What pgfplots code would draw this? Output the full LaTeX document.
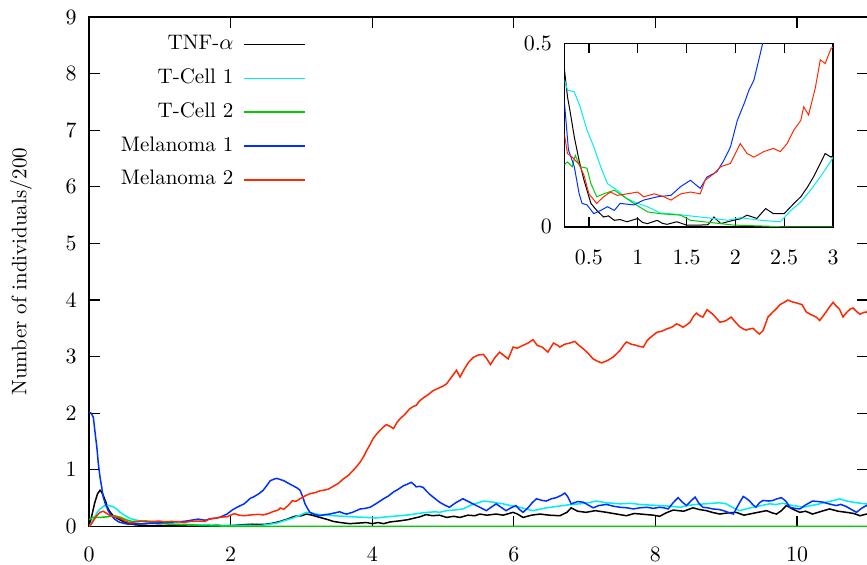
\documentclass[border=0pt]{standalone}
\usepackage{pgfplots}
\pgfplotsset{compat=1.18}
\definecolor{cTNF}{RGB}{0,0,0}
\definecolor{cT1}{RGB}{0,238,238}
\definecolor{cT2}{RGB}{0,204,0}
\definecolor{melblue}{RGB}{0,48,255}
\definecolor{cM2}{RGB}{255,40,0}
\begin{document}
\begin{tikzpicture}
\pgfplotsset{every axis/.append style={font=\fontsize{10.5}{12.6}\selectfont}}
\begin{axis}[
  scale only axis, width=389pt, height=254.5pt,
  xmin=0, xmax=11, ymin=0, ymax=9,
  xtick={0,2,...,10}, ytick={0,1,...,9},
  tick align=inside, major tick length=5.3pt,
  axis line style={line width=0.8pt}, tick style={line width=0.6pt, black},
  xticklabel style={yshift=-7pt}, yticklabel style={xshift=-2.7pt},
  ylabel={Number of individuals$/$200},
  ylabel style={at={(axis description cs:-0.0874,0.5)}, anchor=center},
  legend plot pos=right,
  legend cell align=right,
  legend image code/.code={\draw[#1, line width=0.8pt] (0pt,0pt) -- (30.5pt,0pt);},
  legend style={draw=none, fill=none, at={(axis description cs:0.287,0.98)}, anchor=north east,
    row sep=3.9pt, column sep=3pt, nodes={inner sep=2pt, text height=7pt, text depth=2pt}},
]
\addplot[color=cTNF, line width=0.75pt] coordinates {(0,0) (0.04,0.2) (0.08,0.42) (0.12,0.58) (0.155,0.64) (0.18,0.6) (0.2,0.55) (0.24,0.42) (0.27,0.31) (0.3,0.25) (0.34,0.19) (0.4,0.14) (0.48,0.09) (0.55,0.06) (0.65,0.03) (0.75,0.02) (0.9,0.015) (1.0,0.02) (1.1,0.01) (1.2,0.015) (1.35,0.01) (1.5,0.005) (1.7,0.01) (1.8,0.025) (1.9,0.01) (2.0,0.015) (2.15,0.03) (2.3,0.04) (2.4,0.035) (2.5,0.04) (2.6,0.06) (2.7,0.09) (2.8,0.13) (2.9,0.18) (3.0,0.19) (3.07,0.22) (3.15,0.2) (3.26,0.16) (3.35,0.13) (3.45,0.09) (3.55,0.07) (3.68,0.05) (3.8,0.06) (3.92,0.07) (4.0,0.05) (4.08,0.07) (4.16,0.05) (4.25,0.08) (4.39,0.1) (4.5,0.12) (4.6,0.15) (4.67,0.17) (4.76,0.21) (4.85,0.19) (4.95,0.2) (5.05,0.16) (5.15,0.18) (5.24,0.16) (5.35,0.2) (5.45,0.19) (5.52,0.22) (5.62,0.2) (5.75,0.22) (5.85,0.2) (5.99,0.25) (6.05,0.22) (6.13,0.16) (6.25,0.2) (6.37,0.22) (6.5,0.2) (6.65,0.19) (6.75,0.25) (6.81,0.33) (6.9,0.27) (7.02,0.25) (7.15,0.28) (7.31,0.25) (7.45,0.22) (7.59,0.19) (7.7,0.23) (7.88,0.21) (7.97,0.2) (8.06,0.18) (8.15,0.24) (8.25,0.29) (8.4,0.27) (8.53,0.33) (8.62,0.3) (8.72,0.28) (8.8,0.25) (8.91,0.22) (9.02,0.24) (9.14,0.25) (9.25,0.2) (9.33,0.22) (9.45,0.25) (9.57,0.28) (9.65,0.24) (9.71,0.22) (9.78,0.28) (9.85,0.37) (9.95,0.3) (10.04,0.25) (10.12,0.27) (10.22,0.22) (10.35,0.27) (10.46,0.31) (10.58,0.27) (10.7,0.25) (10.8,0.23) (10.89,0.19) (10.98,0.22) (11,0.21)};
\addlegendentry{TNF-$\alpha$}
\addplot[color=cT1, line width=0.75pt] coordinates {(0,0) (0.04,0.08) (0.08,0.17) (0.12,0.26) (0.155,0.31) (0.22,0.37) (0.28,0.37) (0.34,0.35) (0.4,0.3) (0.43,0.26) (0.5,0.2) (0.58,0.14) (0.68,0.11) (0.77,0.09) (0.9,0.07) (1.0,0.06) (1.2,0.04) (1.38,0.035) (1.6,0.03) (1.76,0.025) (1.9,0.02) (2.03,0.02) (2.2,0.02) (2.41,0.015) (2.55,0.04) (2.65,0.06) (2.75,0.1) (2.88,0.15) (2.98,0.2) (3.07,0.25) (3.14,0.24) (3.21,0.22) (3.33,0.2) (3.45,0.19) (3.6,0.18) (3.75,0.17) (3.92,0.16) (4.05,0.15) (4.2,0.17) (4.39,0.19) (4.55,0.21) (4.65,0.23) (4.77,0.25) (4.9,0.26) (4.95,0.25) (5.05,0.28) (5.15,0.29) (5.28,0.31) (5.4,0.38) (5.5,0.42) (5.57,0.45) (5.7,0.43) (5.85,0.4) (5.95,0.37) (6.08,0.34) (6.2,0.3) (6.27,0.28) (6.35,0.3) (6.46,0.33) (6.58,0.35) (6.7,0.37) (6.82,0.39) (6.93,0.4) (7.05,0.42) (7.17,0.45) (7.3,0.42) (7.4,0.41) (7.5,0.4) (7.65,0.41) (7.78,0.39) (7.9,0.38) (8.06,0.37) (8.2,0.36) (8.35,0.34) (8.45,0.37) (8.58,0.39) (8.7,0.4) (8.81,0.41) (8.9,0.42) (9.0,0.4) (9.1,0.33) (9.19,0.28) (9.28,0.31) (9.38,0.34) (9.5,0.37) (9.61,0.4) (9.7,0.39) (9.8,0.41) (9.9,0.38) (10.0,0.36) (10.08,0.34) (10.2,0.37) (10.32,0.4) (10.45,0.44) (10.55,0.47) (10.6,0.49) (10.7,0.45) (10.79,0.43) (10.9,0.41) (10.98,0.4) (11,0.39)};
\addlegendentry{T-Cell 1}
\addplot[color=cT2, line width=0.75pt] coordinates {(0,0.12) (0.05,0.16) (0.15,0.16) (0.25,0.17) (0.36,0.19) (0.45,0.16) (0.52,0.12) (0.6,0.09) (0.7,0.09) (0.8,0.1) (0.9,0.08) (1.0,0.06) (1.1,0.045) (1.25,0.036) (1.45,0.03) (1.55,0.018) (1.8,0.01) (2.0,0.005) (2.35,0.002) (2.5,0) (11,0)};
\addlegendentry{T-Cell 2}
\addplot[color=melblue, line width=0.75pt] coordinates {(0,2.02) (0.03,2.0) (0.06,1.93) (0.09,1.6) (0.11,1.40) (0.13,1.12) (0.155,0.87) (0.18,0.68) (0.2,0.52) (0.23,0.4) (0.27,0.28) (0.31,0.2) (0.36,0.13) (0.42,0.08) (0.48,0.06) (0.55,0.04) (0.62,0.045) (0.7,0.05) (0.76,0.045) (0.85,0.06) (0.96,0.06) (1.06,0.07) (1.2,0.08) (1.34,0.09) (1.44,0.11) (1.54,0.13) (1.64,0.11) (1.72,0.14) (1.81,0.15) (1.88,0.18) (1.95,0.22) (2.02,0.29) (2.09,0.34) (2.14,0.37) (2.19,0.40) (2.24,0.455) (2.28,0.5) (2.32,0.52) (2.4,0.58) (2.46,0.64) (2.52,0.74) (2.56,0.81) (2.62,0.84) (2.65,0.85) (2.7,0.83) (2.75,0.81) (2.82,0.76) (2.88,0.72) (2.94,0.68) (2.98,0.64) (3.02,0.52) (3.05,0.40) (3.09,0.31) (3.12,0.25) (3.19,0.21) (3.26,0.19) (3.33,0.21) (3.40,0.22) (3.47,0.24) (3.54,0.26) (3.6,0.23) (3.64,0.22) (3.72,0.25) (3.83,0.31) (3.9,0.32) (3.97,0.34) (4.05,0.40) (4.16,0.49) (4.23,0.54) (4.30,0.61) (4.37,0.66) (4.44,0.72) (4.5,0.75) (4.55,0.78) (4.6,0.73) (4.62,0.70) (4.67,0.71) (4.72,0.69) (4.77,0.62) (4.81,0.57) (4.88,0.5) (4.95,0.43) (5.02,0.38) (5.09,0.34) (5.18,0.42) (5.28,0.49) (5.36,0.44) (5.47,0.37) (5.55,0.32) (5.61,0.28) (5.68,0.34) (5.75,0.40) (5.82,0.34) (5.89,0.28) (5.96,0.33) (6.03,0.37) (6.08,0.3) (6.13,0.25) (6.2,0.33) (6.26,0.42) (6.32,0.49) (6.4,0.46) (6.46,0.45) (6.53,0.49) (6.60,0.51) (6.67,0.55) (6.72,0.59) (6.76,0.53) (6.81,0.40) (6.9,0.44) (6.98,0.43) (7.05,0.38) (7.12,0.33) (7.2,0.37) (7.31,0.39) (7.4,0.36) (7.5,0.34) (7.6,0.33) (7.69,0.31) (7.78,0.33) (7.88,0.34) (7.97,0.32) (8.06,0.34) (8.12,0.33) (8.18,0.31) (8.25,0.42) (8.32,0.51) (8.38,0.43) (8.44,0.37) (8.5,0.45) (8.56,0.52) (8.62,0.4) (8.67,0.34) (8.74,0.33) (8.81,0.31) (8.9,0.3) (8.96,0.28) (9.03,0.25) (9.1,0.22) (9.17,0.38) (9.24,0.53) (9.28,0.5) (9.33,0.45) (9.38,0.38) (9.42,0.34) (9.47,0.42) (9.52,0.46) (9.6,0.45) (9.66,0.46) (9.72,0.49) (9.78,0.51) (9.84,0.45) (9.9,0.34) (9.97,0.32) (10.04,0.31) (10.12,0.38) (10.22,0.45) (10.3,0.44) (10.37,0.43) (10.45,0.4) (10.55,0.37) (10.62,0.39) (10.7,0.35) (10.77,0.30) (10.84,0.25) (10.91,0.32) (10.98,0.37) (11,0.36)};
\addlegendentry{Melanoma 1}
\addplot[color=cM2, line width=0.75pt] coordinates {(0,0) (0.03,0.04) (0.06,0.1) (0.1,0.18) (0.155,0.25) (0.2,0.27) (0.25,0.23) (0.3,0.19) (0.39,0.16) (0.45,0.14) (0.5,0.1) (0.58,0.065) (0.65,0.08) (0.72,0.095) (0.79,0.086) (0.89,0.09) (1.0,0.095) (1.06,0.082) (1.17,0.09) (1.27,0.082) (1.34,0.073) (1.44,0.09) (1.54,0.095) (1.64,0.09) (1.69,0.127) (1.78,0.145) (1.85,0.164) (1.95,0.173) (2.0,0.2) (2.05,0.227) (2.12,0.2) (2.19,0.19) (2.29,0.205) (2.39,0.214) (2.46,0.205) (2.53,0.227) (2.6,0.264) (2.67,0.29) (2.70,0.327) (2.75,0.305) (2.82,0.38) (2.87,0.455) (2.92,0.445) (2.98,0.49) (3.05,0.54) (3.12,0.58) (3.2,0.6) (3.26,0.63) (3.31,0.64) (3.38,0.66) (3.45,0.71) (3.52,0.76) (3.59,0.84) (3.66,0.9) (3.73,0.99) (3.78,1.06) (3.83,1.14) (3.88,1.24) (3.92,1.34) (3.97,1.45) (4.01,1.55) (4.06,1.63) (4.11,1.70) (4.16,1.76) (4.20,1.80) (4.25,1.77) (4.30,1.73) (4.35,1.84) (4.39,1.90) (4.46,1.98) (4.53,2.08) (4.58,2.12) (4.62,2.14) (4.67,2.22) (4.72,2.27) (4.79,2.33) (4.86,2.40) (4.93,2.44) (5.0,2.48) (5.05,2.52) (5.12,2.64) (5.19,2.76) (5.24,2.64) (5.3,2.78) (5.36,2.9) (5.43,2.99) (5.5,3.03) (5.57,3.04) (5.62,2.96) (5.67,2.86) (5.73,2.98) (5.80,3.08) (5.86,3.02) (5.92,2.96) (5.99,3.17) (6.05,3.15) (6.13,3.20) (6.2,3.24) (6.27,3.30) (6.33,3.2) (6.4,3.17) (6.48,3.08) (6.52,3.16) (6.56,3.24) (6.62,3.2) (6.65,3.17) (6.72,3.22) (6.79,3.24) (6.86,3.27) (6.92,3.2) (6.98,3.14) (7.05,3.06) (7.12,2.96) (7.18,2.92) (7.24,2.89) (7.32,2.93) (7.40,2.99) (7.45,3.05) (7.50,3.11) (7.55,3.2) (7.59,3.26) (7.66,3.22) (7.73,3.20) (7.78,3.18) (7.83,3.17) (7.88,3.28) (7.92,3.33) (7.97,3.38) (8.02,3.43) (8.09,3.45) (8.16,3.49) (8.23,3.52) (8.30,3.58) (8.35,3.55) (8.39,3.52) (8.44,3.56) (8.49,3.61) (8.54,3.72) (8.58,3.77) (8.63,3.72) (8.67,3.70) (8.73,3.83) (8.77,3.79) (8.81,3.75) (8.86,3.68) (8.91,3.61) (8.96,3.62) (9.00,3.64) (9.07,3.70) (9.13,3.61) (9.19,3.53) (9.24,3.49) (9.28,3.47) (9.33,3.49) (9.38,3.50) (9.43,3.44) (9.47,3.40) (9.52,3.46) (9.59,3.70) (9.66,3.79) (9.71,3.85) (9.76,3.92) (9.82,3.96) (9.87,4.00) (9.93,3.97) (9.99,3.95) (10.07,3.92) (10.13,3.79) (10.2,3.74) (10.27,3.70) (10.32,3.64) (10.37,3.72) (10.41,3.79) (10.46,3.88) (10.51,3.96) (10.55,3.9) (10.60,3.84) (10.65,3.70) (10.7,3.78) (10.75,3.84) (10.79,3.86) (10.84,3.8) (10.89,3.75) (10.94,3.78) (10.98,3.79) (11,3.78)};
\addlegendentry{Melanoma 2}
\end{axis}
\begin{axis}[
  at={(237.5pt,149.65pt)}, anchor=south west,
  scale only axis, width=134.1pt, height=91.7pt,
  xmin=0.25, xmax=3, ymin=0, ymax=0.5,
  xtick={0.5,1,1.5,2,2.5,3}, ytick={0,0.5},
  tick align=inside, major tick length=5pt,
  axis background/.style={fill=white},
  axis line style={line width=0.7pt}, tick style={line width=0.6pt, black},
  xticklabel style={yshift=-8.4pt}, yticklabel style={xshift=-2.8pt},
]
\addplot[color=cTNF, line width=0.5pt] coordinates {(0.2,0.47) (0.25,0.427) (0.28,0.355) (0.31,0.31) (0.35,0.245) (0.4,0.18) (0.45,0.127) (0.52,0.064) (0.58,0.045) (0.65,0.027) (0.7,0.03) (0.76,0.018) (0.82,0.02) (0.89,0.014) (1.0,0.023) (1.05,0.012) (1.1,0.009) (1.2,0.018) (1.25,0.01) (1.3,0.007) (1.4,0.014) (1.5,0.005) (1.64,0.005) (1.72,0.006) (1.78,0.027) (1.85,0.009) (1.98,0.018) (2.05,0.022) (2.12,0.032) (2.22,0.023) (2.31,0.05) (2.39,0.036) (2.5,0.036) (2.6,0.064) (2.67,0.082) (2.74,0.109) (2.8,0.136) (2.87,0.173) (2.92,0.2) (2.98,0.19) (3.0,0.195)};
\addplot[color=cT1, line width=0.5pt] coordinates {(0.2,0.42) (0.25,0.40) (0.28,0.373) (0.32,0.37) (0.35,0.368) (0.41,0.327) (0.48,0.264) (0.55,0.218) (0.62,0.164) (0.69,0.118) (0.79,0.10) (0.89,0.077) (1.0,0.064) (1.1,0.055) (1.23,0.038) (1.37,0.035) (1.57,0.029) (1.78,0.023) (1.92,0.018) (2.05,0.025) (2.26,0.018) (2.46,0.014) (2.57,0.045) (2.67,0.068) (2.77,0.10) (2.87,0.136) (2.98,0.18) (3.0,0.19)};
\addplot[color=cT2, line width=0.5pt] coordinates {(0.2,0.17) (0.25,0.17) (0.28,0.177) (0.33,0.164) (0.36,0.195) (0.41,0.164) (0.48,0.16) (0.52,0.118) (0.58,0.082) (0.65,0.09) (0.76,0.10) (0.86,0.082) (0.96,0.064) (1.1,0.041) (1.23,0.036) (1.44,0.032) (1.54,0.018) (1.78,0.011) (1.98,0.005) (2.33,0.002) (2.5,0) (3.0,0)};
\addplot[color=melblue, line width=0.5pt] coordinates {(0.2,0.42) (0.25,0.336) (0.29,0.21) (0.35,0.164) (0.40,0.09) (0.43,0.064) (0.48,0.06) (0.55,0.036) (0.62,0.045) (0.69,0.055) (0.76,0.045) (0.82,0.064) (0.96,0.06) (1.06,0.073) (1.2,0.082) (1.34,0.086) (1.44,0.11) (1.54,0.127) (1.64,0.105) (1.71,0.136) (1.81,0.15) (1.88,0.18) (1.95,0.218) (2.02,0.29) (2.09,0.336) (2.14,0.373) (2.19,0.40) (2.24,0.455) (2.28,0.50) (2.35,0.56) (2.45,0.64)};
\addplot[color=cM2, line width=0.5pt] coordinates {(0.2,0.27) (0.25,0.25) (0.28,0.20) (0.33,0.19) (0.40,0.17) (0.45,0.14) (0.5,0.09) (0.58,0.064) (0.65,0.082) (0.72,0.095) (0.79,0.086) (0.89,0.09) (1.0,0.095) (1.06,0.082) (1.17,0.09) (1.27,0.082) (1.34,0.073) (1.44,0.09) (1.54,0.095) (1.64,0.09) (1.69,0.127) (1.78,0.145) (1.85,0.164) (1.95,0.173) (2.0,0.20) (2.05,0.227) (2.12,0.20) (2.19,0.19) (2.29,0.205) (2.39,0.214) (2.46,0.205) (2.53,0.227) (2.6,0.264) (2.67,0.29) (2.70,0.327) (2.75,0.305) (2.82,0.38) (2.87,0.455) (2.92,0.445) (2.98,0.486) (3.0,0.49)};
\end{axis}
\pgfresetboundingbox
\path[use as bounding box] (-44.5pt,-19pt) rectangle (388.6pt,263pt);
\end{tikzpicture}
\end{document}
